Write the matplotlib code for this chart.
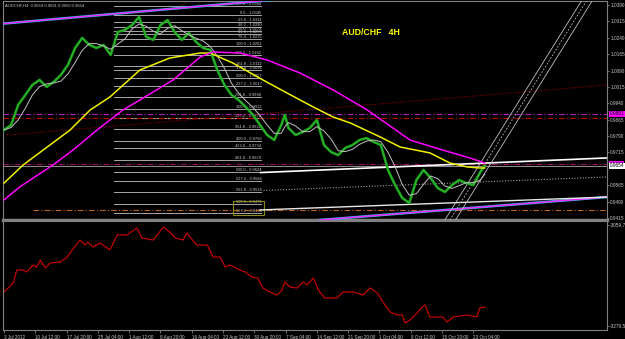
import numpy as np
import pandas as pd
import matplotlib
matplotlib.use("Agg")
import matplotlib.pyplot as plt

plt.rcParams['font.family'] = ['Liberation Sans', 'DejaVu Sans']

# H4 bars (index) and closing prices
price_bars = [0, 10, 20, 30, 40, 50, 60, 70, 80, 90, 100, 110, 120, 130, 140, 150, 160, 170,
              180, 190, 200, 210, 220, 230, 240, 250, 260, 270, 280, 290, 300, 310, 320, 330,
              340, 350, 360, 370, 380, 390, 395, 400, 410, 420, 430, 440, 450, 460, 470, 480,
              490, 500, 510, 520, 530, 540, 550, 560, 570, 580, 590, 600, 610, 620, 630, 640,
              650, 660, 670, 676]
price_close = [0.9818, 0.9841, 0.9933, 0.9978, 1.0024, 1.0047, 1.0015, 1.0038, 1.0070, 1.0116,
               1.0193, 1.0239, 1.0207, 1.0193, 1.0207, 1.0161, 1.0266, 1.0276, 1.0298, 1.0335,
               1.0244, 1.0230, 1.0298, 1.0321, 1.0266, 1.0230, 1.0262, 1.0221, 1.0193, 1.0184,
               1.0092, 1.0024, 0.9978, 0.9955, 0.9923, 0.9887, 0.9841, 0.9795, 0.9772, 0.9841,
               0.9887, 0.9827, 0.9795, 0.9809, 0.9827, 0.9864, 0.9749, 0.9717, 0.9703, 0.9736,
               0.9749, 0.9772, 0.9781, 0.9763, 0.9749, 0.9635, 0.9566, 0.9507, 0.9484, 0.9589,
               0.9635, 0.9598, 0.9552, 0.9534, 0.9566, 0.9589, 0.9575, 0.9566, 0.9626, 0.9654]

# slow moving averages
yellow_bars = [0, 27, 55, 93, 121, 149, 191, 233, 276, 290, 322, 364, 398, 435, 463, 487, 529,
               557, 599, 627, 651, 669, 676]
yellow_ma = [0.9575, 0.9658, 0.9726, 0.9818, 0.9909, 0.9969, 1.0092, 1.0147, 1.0170, 1.0170,
             1.0124, 1.0047, 0.9987, 0.9923, 0.9877, 0.9850, 0.9786, 0.9740, 0.9713, 0.9667,
             0.9649, 0.9644, 0.9644]
magenta_bars = [0, 22, 69, 97, 131, 167, 191, 238, 276, 294, 332, 370, 416, 463, 511, 557, 571,
                617, 655, 676]
magenta_ma = [0.9498, 0.9557, 0.9658, 0.9726, 0.9818, 0.9909, 0.9955, 1.0047, 1.0152, 1.0175,
              1.0170, 1.0138, 1.0079, 1.0001, 0.9909, 0.9804, 0.9772, 0.9726, 0.9690, 0.9667]

# fibonacci expansion levels
fib_pct = [-27.2, 0.0, 23.6, 38.2, 50.0, 61.8, 76.4, 100.0, 127.2, 161.8, 176.4, 200.0, 227.2,
           261.8, 300.0, 327.2, 361.8, 400.0, 423.6, 461.8, 500.0, 527.2, 561.8, 600.0, 627.2]
fib_price = [1.0384, 1.0345, 1.0311, 1.0290, 1.0273, 1.0256, 1.0235, 1.0201, 1.0162, 1.0112,
             1.0091, 1.0057, 1.0017, 0.9968, 0.9912, 0.9872, 0.9822, 0.9766, 0.9734, 0.9679,
             0.9624, 0.9584, 0.9534, 0.9479, 0.9440]
fib_start, fib_end = 155, 362

# lower window oscillator
osc_bars = [0, 13, 18, 27, 32, 41, 46, 51, 58, 65, 79, 89, 96, 107, 114, 118, 125, 135, 139,
            149, 159, 173, 187, 194, 210, 224, 233, 241, 252, 257, 271, 286, 294, 304, 311, 318,
            332, 339, 349, 357, 364, 374, 384, 391, 395, 402, 412, 421, 426, 435, 442, 451, 461,
            468, 477, 491, 505, 515, 525, 533, 543, 553, 560, 564, 571, 581, 588, 592, 599, 617,
            623, 632, 651, 665, 669, 676]
osc_vals = [-3205.5, -3186.0, -3157.7, -3157.7, -3162.0, -3146.8, -3151.1, -3135.9, -3153.3,
            -3142.4, -3140.2, -3129.4, -3114.1, -3092.4, -3103.3, -3096.7, -3107.6, -3098.9,
            -3103.3, -3114.1, -3081.5, -3081.5, -3066.3, -3088.0, -3092.4, -3064.1, -3075.0,
            -3088.0, -3092.4, -3077.1, -3103.3, -3103.3, -3129.4, -3129.4, -3151.1, -3146.8,
            -3157.7, -3162.0, -3172.9, -3175.1, -3196.8, -3205.5, -3212.1, -3201.2, -3183.8,
            -3194.7, -3196.8, -3183.8, -3190.3, -3175.1, -3201.2, -3218.6, -3218.6, -3218.6,
            -3205.5, -3205.5, -3212.1, -3196.8, -3207.7, -3227.3, -3249.0, -3255.5, -3255.5,
            -3272.9, -3266.3, -3251.2, -3238.1, -3233.8, -3259.9, -3259.9, -3270.7, -3259.9,
            -3255.5, -3259.9, -3240.3, -3238.1]

price_ticks = [1.0390, 1.0315, 1.0240, 1.0165, 1.0090, 1.0015, 0.9940, 0.9865, 0.9790, 0.9715,
               0.9565, 0.9490, 0.9415]
time_labels = ["3 Jul 2012", "10 Jul 12:00", "17 Jul 20:00", "25 Jul 04:00", "1 Aug 12:00",
               "8 Aug 20:00", "16 Aug 04:00", "23 Aug 12:00", "30 Aug 20:00", "7 Sep 04:00",
               "14 Sep 12:00", "21 Sep 20:00", "1 Oct 04:00", "8 Oct 12:00", "15 Oct 20:00",
               "23 Oct 04:00"]
bars_per_label = 44

# drawn objects: trend lines (bar, price) pairs
upper_channel = ([-6, 378], [1.0303, 1.0413])
lower_channel = ([444, 848], [0.9406, 0.9511])
white_upper = ([361, 848], [0.9623, 0.9690])
white_lower = ([360, 848], [0.9452, 0.9511])
gray_dotted = ([365, 848], [0.9541, 0.9603])
red_dotted = ([4, 848], [0.9795, 1.0024])
steep_left = [620, 627, 635]
steep_right = [813, 820, 828]
steep_price = [0.9406, 1.0413]
hlines = {0.9891: '#b020c0', 0.9873: '#c00000', 0.9662: '#a01060', 0.9452: '#c06020'}
bid = 0.9654

fg = '#c8c8c8'
frame = '#808080'
ylo, yhi = 0.9406, 1.0408

fig = plt.figure(figsize=(6.25, 3.39), dpi=100, facecolor='black')
ax = fig.add_axes([3 / 625, 1 - 220 / 339, 604 / 625, 219 / 339], facecolor='black')
ax2 = fig.add_axes([3 / 625, 1 - 330 / 339, 604 / 625, 109 / 339], facecolor='black')

xlim = (-1.4, 848)
for a in (ax, ax2):
    a.set_xlim(*xlim)
    for s in a.spines.values():
        s.set_color(frame)
    a.spines['left'].set_linewidth(0.8)
    a.yaxis.tick_right()
    a.tick_params(axis='y', colors=frame, labelcolor=fg, labelsize=3.4, length=1.5, width=0.6,
                  pad=0.8)
ax.spines['bottom'].set_linewidth(2.5)
ax.set_ylim(ylo, yhi)

# fib levels
for p, v in zip(fib_pct, fib_price):
    ax.plot([fib_start, fib_end], [v, v], color='#a8a8a8', lw=0.7, zorder=1)
    ax.text(fib_end, v, f"{p:.1f} - {v:.4f}", color=fg, fontsize=2.9, ha='right', va='bottom',
            zorder=2)
ax.add_patch(plt.Rectangle((322, 0.9428), 43, 0.0063, fill=False, ec='#8a8a20', lw=0.8, zorder=3))

# horizontal lines
for v, c in hlines.items():
    x0 = 41 if c == '#c06020' else xlim[0]
    ax.plot([x0, xlim[1]], [v, v], color=c, lw=0.8, ls=(0, (5, 2, 1, 2)), zorder=2)
ax.axhline(bid, color='#909090', lw=0.7, zorder=2)

# trend lines
ax.plot(*red_dotted, color='#900000', lw=0.8, ls=(0, (1, 1.5)), zorder=2)
ax.plot(*gray_dotted, color='#a0a0a0', lw=0.8, ls=(0, (1, 1.5)), zorder=2)
for ln in (upper_channel, lower_channel):
    ax.plot(*ln, color='#20c0e0', lw=1.8, zorder=3)
    ax.plot(*ln, color='#ff20ff', lw=1.0, zorder=3)
ax.plot(*white_upper, color='white', lw=1.2, zorder=3)
ax.plot(*white_lower, color='#e8e8e8', lw=1.0, zorder=3)
for i, (a0, a1) in enumerate(zip(steep_left, steep_right)):
    ax.plot([a0, a1], steep_price, color='#c0c0c0', lw=0.6,
            ls=(0, (2, 2)) if i == 1 else '-', zorder=3)

# price and averages
ax.plot(price_bars, price_close, color='#1a9a1a', lw=1.9, zorder=4)
ax.plot(price_bars, price_close, color='#30c030', lw=0.6, zorder=4)
fast = pd.Series(price_close).rolling(3, min_periods=1).mean()
ax.plot(price_bars, fast, color='#c0c0c0', lw=0.7, zorder=5)
ax.plot(yellow_bars, yellow_ma, color='#f0f000', lw=1.1, zorder=5)
ax.plot(magenta_bars, magenta_ma, color='#ff00ff', lw=1.1, zorder=5)

ax.text(516, 1.0262, "AUD/CHF   4H", color='#ffff00', fontsize=6.3, fontweight='bold',
        ha='center', va='center')
ax.text(0.003, 0.99, "AUDCHF,H4  0.9659 0.9661 0.9650 0.9654", transform=ax.transAxes,
        color=fg, fontsize=3.0, ha='left', va='top')

ax.set_yticks(price_ticks)
ax.set_yticklabels([f"{v:.4f}" for v in price_ticks])
ax.set_xticks([])

# right-axis price labels
for v, c in [(0.9891, '#ff00ff'), (0.9662, '#ff00ff'), (bid, 'white')]:
    ax.text(1.004, (v - ylo) / (yhi - ylo), f"{v:.4f}", transform=ax.transAxes,
            fontsize=3.4, color='black', ha='left', va='center', clip_on=False,
            bbox=dict(boxstyle='square,pad=0.15', fc=c, ec='none'))

# lower window
ax2.plot(osc_bars, osc_vals, color='#c00000', lw=0.9)
ax2.set_ylim(-3288.2, -3051.0)
ax2.set_yticks([-3059.74, -3279.54])
ax2.set_yticklabels(["-3059.74", "-3279.54"])
ticks = np.arange(len(time_labels)) * bars_per_label
ax2.set_xticks(ticks)
ax2.set_xticklabels(time_labels, ha='left')
ax2.tick_params(axis='x', colors=frame, labelcolor=fg, labelsize=3.3, length=2.5, width=0.6,
                pad=0.8, direction='out')

fig.savefig("out.png", dpi=100, facecolor='black')
